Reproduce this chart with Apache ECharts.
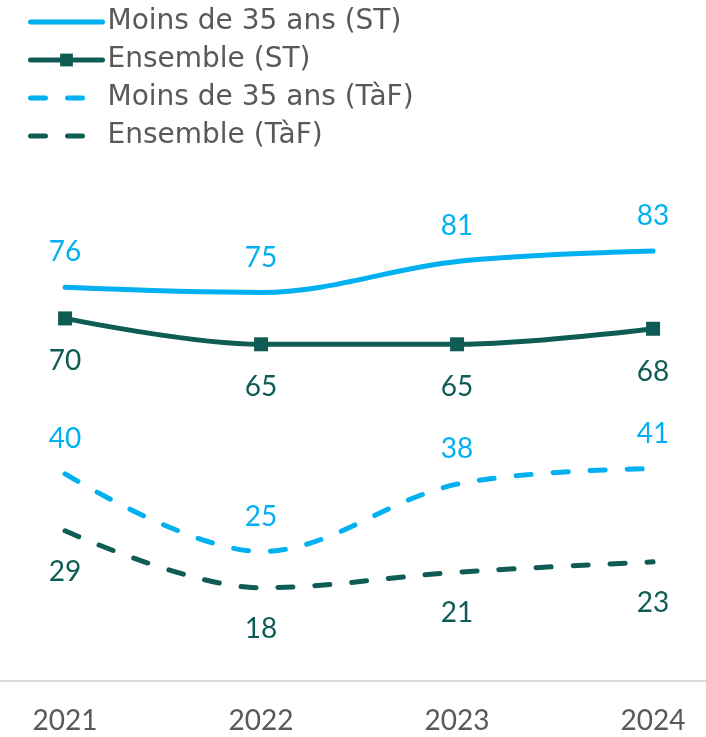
<!DOCTYPE html>
<html>
<head>
<meta charset="utf-8">
<script src="https://cdn.jsdelivr.net/npm/echarts@6/dist/echarts.min.js"></script>
<style>
  html, body { margin: 0; padding: 0; background: #fff; }
  #chart { width: 706px; height: 737px; }
</style>
</head>
<body>
<div id="chart"></div>
<script>
// données
const years = [2021, 2022, 2023, 2024];
const moinsST = [76, 75, 81, 83];
const ensembleST = [70, 65, 65, 68];
const moinsTaF = [40, 25, 38, 41];
const ensembleTaF = [29, 18, 21, 23];

const blue = '#00B0F0';
const green = '#0F5C55';
const numFont = 'Lato, "Open Sans", sans-serif';
const textFont = '"DejaVu Sans", sans-serif';

const pairs = (vals) => years.map((y, i) => [y, vals[i]]);

const makeSeries = (name, vals, color, dashed, pos, withSymbol) => ({
  name: name,
  type: 'line',
  smooth: 0.35,
  data: pairs(vals),
  symbol: withSymbol ? 'rect' : 'circle',
  symbolSize: withSymbol ? 14 : 0,
  showSymbol: true,
  itemStyle: { color: withSymbol ? color : 'transparent' },
  lineStyle: {
    color: color,
    width: 5,
    type: dashed ? [15, 22] : 'solid',
    cap: 'round'
  },
  label: {
    show: true,
    position: pos,
    distance: withSymbol ? 22 : (pos === 'top' ? 21 : 27),
    color: color,
    fontSize: 28,
    fontFamily: numFont,
    formatter: (p) => p.value[1]
  },
  emphasis: { disabled: true }
});

const chart = echarts.init(document.getElementById('chart'));
chart.setOption({
  animation: false,
  backgroundColor: '#fff',
  legend: {
    orient: 'vertical',
    left: 23,
    top: 3,
    itemWidth: 72,
    itemHeight: 16,
    itemGap: 10,
    lineStyle: { width: 5 },
    textStyle: { fontSize: 28, lineHeight: 28, color: '#595959', fontFamily: textFont },
    data: ['Moins de 35 ans (ST)', 'Ensemble (ST)', 'Moins de 35 ans (TàF)', 'Ensemble (TàF)']
  },
  grid: { left: 0, right: 0, top: 163, bottom: 56 },
  xAxis: {
    type: 'value',
    min: 2020.668,
    max: 2024.27,
    splitLine: { show: false },
    axisTick: { show: false },
    axisLine: { show: true, lineStyle: { color: '#d9d9d9', width: 2 } },
    axisLabel: {
      customValues: years,
      formatter: (v) => String(v),
      margin: 26,
      fontSize: 28,
      color: '#595959',
      fontFamily: numFont
    }
  },
  yAxis: {
    type: 'value',
    min: 0,
    max: 100,
    show: false
  },
  series: [
    makeSeries('Moins de 35 ans (ST)', moinsST, blue, false, 'top', false),
    makeSeries('Ensemble (ST)', ensembleST, green, false, 'bottom', true),
    makeSeries('Moins de 35 ans (TàF)', moinsTaF, blue, true, 'top', false),
    makeSeries('Ensemble (TàF)', ensembleTaF, green, true, 'bottom', false)
  ]
});
</script>
</body>
</html>
